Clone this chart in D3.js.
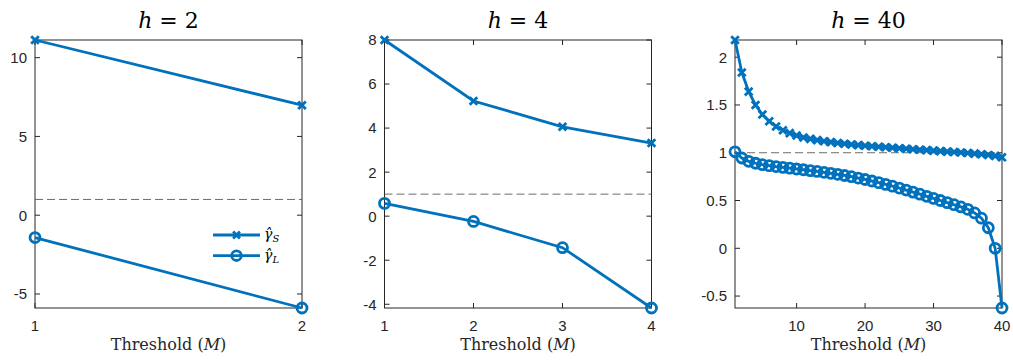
<!DOCTYPE html>
<html>
<head>
<meta charset="utf-8">
<script src="https://cdn.jsdelivr.net/npm/d3@7"></script>
<style>
  body { margin: 0; background: #fff; }
  svg { display: block; }
</style>
</head>
<body>
<svg id="drawing_region"></svg>
<script>
// data
const h2M = [1, 2];
const h2S = [11.12, 6.98];
const h2L = [-1.42, -5.89];

const h4M = [1, 2, 3, 4];
const h4S = [8.0, 5.23, 4.06, 3.32];
const h4L = [0.58, -0.24, -1.43, -4.17];

const h40M = d3.range(1, 41);
const h40S = [2.18, 1.84, 1.64, 1.50, 1.40, 1.33, 1.275, 1.235, 1.205, 1.18,
              1.16, 1.145, 1.132, 1.121, 1.111, 1.102, 1.094, 1.087, 1.08, 1.074,
              1.068, 1.062, 1.057, 1.052, 1.047, 1.042, 1.037, 1.032, 1.027, 1.022,
              1.017, 1.012, 1.007, 1.002, 0.997, 0.991, 0.984, 0.977, 0.967, 0.952];
const h40L = [1.01, 0.945, 0.91, 0.89, 0.875, 0.865, 0.855, 0.847, 0.839, 0.83,
              0.822, 0.813, 0.804, 0.795, 0.785, 0.774, 0.762, 0.749, 0.735, 0.72,
              0.704, 0.687, 0.669, 0.65, 0.63, 0.609, 0.588, 0.566, 0.544, 0.522,
              0.5, 0.478, 0.456, 0.433, 0.408, 0.37, 0.315, 0.215, 0.0, -0.625];

const titles = ['2', '4', '40'];
const xTicks = [[1, 2], [1, 2, 3, 4], [10, 20, 30, 40]];
const yTicks = [[-5, 0, 5, 10], [-4, -2, 0, 2, 4, 6, 8], [-0.5, 0, 0.5, 1, 1.5, 2]];
const refLine = 1;

const panels = [
    {h: titles[0], M: h2M, S: h2S, L: h2L, xt: xTicks[0], yt: yTicks[0], legend: true},
    {h: titles[1], M: h4M, S: h4S, L: h4L, xt: xTicks[1], yt: yTicks[1]},
    {h: titles[2], M: h40M, S: h40S, L: h40L, xt: xTicks[2], yt: yTicks[2]}
];

const config = {
    width: 1013,
    height: 360,
    left: [35, 384.5, 735],
    top: 40,
    pw: 267,
    ph: 268
};

const blue = '#0072BD';
const axisColor = '#262626';
const serif = '"DejaVu Serif", serif';
const sans = '"Liberation Sans", Roboto, Arial, sans-serif';
const lw = 2.8;

const svg = d3.select('#drawing_region')
    .attr('width', config.width)
    .attr('height', config.height);

function crossPath(x, y, s) {
    return `M${x-s},${y-s}L${x+s},${y+s}M${x-s},${y+s}L${x+s},${y-s}`;
}

panels.forEach((p, i) => {
    const g = svg.append('g')
        .attr('transform', `translate(${config.left[i]},${config.top})`);

    const xScale = d3.scaleLinear()
        .domain(d3.extent(p.M))
        .range([0, config.pw]);
    const yScale = d3.scaleLinear()
        .domain(d3.extent(p.S.concat(p.L)))
        .range([config.ph, 0]);

    // box
    g.append('rect')
        .attr('width', config.pw)
        .attr('height', config.ph)
        .attr('fill', 'none')
        .attr('stroke', axisColor)
        .attr('stroke-width', 1);

    // ticks, inside, on all four sides
    const tl = 5;
    p.xt.forEach(t => {
        const x = xScale(t);
        g.append('line').attr('x1', x).attr('x2', x).attr('y1', config.ph).attr('y2', config.ph - tl)
            .attr('stroke', axisColor);
        g.append('line').attr('x1', x).attr('x2', x).attr('y1', 0).attr('y2', tl)
            .attr('stroke', axisColor);
        g.append('text')
            .attr('x', x).attr('y', config.ph + 23)
            .attr('text-anchor', 'middle')
            .style('font-family', sans)
            .style('font-size', '15px')
            .attr('fill', axisColor)
            .text(t);
    });
    p.yt.forEach(t => {
        const y = yScale(t);
        g.append('line').attr('x1', 0).attr('x2', tl).attr('y1', y).attr('y2', y)
            .attr('stroke', axisColor);
        g.append('line').attr('x1', config.pw).attr('x2', config.pw - tl).attr('y1', y).attr('y2', y)
            .attr('stroke', axisColor);
        g.append('text')
            .attr('x', -8).attr('y', y)
            .attr('dy', '0.36em')
            .attr('text-anchor', 'end')
            .style('font-family', sans)
            .style('font-size', '15px')
            .attr('fill', axisColor)
            .text(t);
    });

    // reference line at 1
    g.append('line')
        .attr('x1', 0).attr('x2', config.pw)
        .attr('y1', yScale(refLine)).attr('y2', yScale(refLine))
        .attr('stroke', '#5a5a5a')
        .attr('stroke-width', 0.9)
        .attr('stroke-dasharray', '8,4');

    const line = d3.line()
        .x((d, j) => xScale(p.M[j]))
        .y(d => yScale(d));

    // gamma_S
    g.append('path')
        .attr('d', line(p.S))
        .attr('fill', 'none')
        .attr('stroke', blue)
        .attr('stroke-width', lw);
    g.selectAll('.mx')
        .data(p.S)
        .enter()
        .append('path')
        .attr('d', (d, j) => crossPath(xScale(p.M[j]), yScale(d), 3.8))
        .attr('stroke', blue)
        .attr('stroke-width', lw)
        .attr('fill', 'none');

    // gamma_L
    g.append('path')
        .attr('d', line(p.L))
        .attr('fill', 'none')
        .attr('stroke', blue)
        .attr('stroke-width', lw);
    g.selectAll('.mo')
        .data(p.L)
        .enter()
        .append('circle')
        .attr('cx', (d, j) => xScale(p.M[j]))
        .attr('cy', d => yScale(d))
        .attr('r', 5)
        .attr('fill', 'none')
        .attr('stroke', blue)
        .attr('stroke-width', lw);

    // title
    const title = g.append('text')
        .attr('x', config.pw / 2).attr('y', -12)
        .attr('text-anchor', 'middle')
        .style('font-family', serif)
        .style('font-size', '22px')
        .attr('fill', '#000');
    title.append('tspan').style('font-style', 'italic').text('h');
    title.append('tspan').text(' = ' + p.h);

    // x label
    const xl = g.append('text')
        .attr('x', config.pw / 2).attr('y', config.ph + 42)
        .attr('text-anchor', 'middle')
        .style('font-family', serif)
        .style('font-size', '16px')
        .attr('fill', '#262626');
    xl.append('tspan').text('Threshold (');
    xl.append('tspan').style('font-style', 'italic').text('M');
    xl.append('tspan').text(')');

    // legend
    if (p.legend) {
        const lx = 178, rows = [195, 215.7];
        const names = ['S', 'L'];
        rows.forEach((ry, k) => {
            g.append('line')
                .attr('x1', lx).attr('x2', lx + 47)
                .attr('y1', ry).attr('y2', ry)
                .attr('stroke', blue).attr('stroke-width', lw);
            if (k === 0) {
                g.append('path')
                    .attr('d', crossPath(lx + 23.5, ry, 3.4))
                    .attr('stroke', blue).attr('stroke-width', lw);
            } else {
                g.append('circle')
                    .attr('cx', lx + 23.5).attr('cy', ry).attr('r', 4.8)
                    .attr('fill', 'none')
                    .attr('stroke', blue).attr('stroke-width', lw);
            }
            const t = g.append('text')
                .attr('x', lx + 51).attr('y', ry + 4)
                .style('font-family', serif)
                .style('font-size', '14px')
                .attr('fill', '#000');
            t.append('tspan').style('font-style', 'italic').text('\u03B3\u0302');
            t.append('tspan').attr('dy', 3).style('font-size', '10px')
                .style('font-style', 'italic').text(names[k]);
        });
    }
});
</script>
</body>
</html>
